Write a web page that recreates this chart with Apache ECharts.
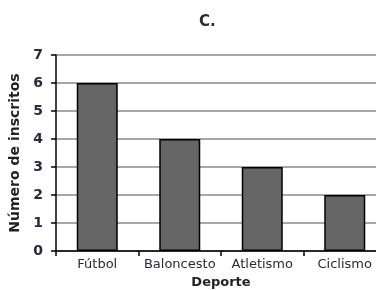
<!DOCTYPE html>
<html><head><meta charset="utf-8">
<script src="https://cdn.jsdelivr.net/npm/echarts@6/dist/echarts.min.js"></script>
<style>html,body{margin:0;padding:0;background:#fff}#c{width:376px;height:290px}</style>
</head><body><div id="c"></div>
<script>
const categories = ["Fútbol", "Baloncesto", "Atletismo", "Ciclismo"];
const values = [6, 4, 3, 2];
const yTicks = [0, 1, 2, 3, 4, 5, 6, 7];

const chart = echarts.init(document.getElementById('c'), null, {renderer: 'canvas'});
chart.setOption({
  animation: false,
  title: {
    text: 'C.', left: 194, top: 10,
    textStyle: {fontFamily: 'DejaVu Sans', fontSize: 15, fontWeight: 'bold', color: '#2a2a3a'}
  },
  grid: {left: 56, width: 330, top: 55, bottom: 39, containLabel: false, outerBoundsMode: 'none'},
  xAxis: {
    type: 'category', data: categories, boundaryGap: true,
    name: 'Deporte', nameLocation: 'middle', nameGap: 25,
    nameTextStyle: {fontFamily: 'DejaVu Sans', fontSize: 13, fontWeight: 'bold', color: '#222'},
    axisLine: {show: true, lineStyle: {color: '#000', width: 1.5}},
    axisTick: {show: true, length: 5, interval: 0, lineStyle: {color: '#000', width: 1.5}},
    axisLabel: {fontFamily: 'DejaVu Sans', fontSize: 13, color: '#2a2a3a', margin: 7, interval: 0, hideOverlap: false}
  },
  yAxis: {
    type: 'value', min: 0, max: 7, interval: 1,
    name: 'Número de inscritos', nameLocation: 'middle', nameGap: 34, nameRotate: 90,
    nameTextStyle: {fontFamily: 'DejaVu Sans', fontSize: 14, fontWeight: 'bold', color: '#222'},
    axisLine: {show: true, lineStyle: {color: '#000', width: 1.5}},
    axisTick: {show: true, length: 5, lineStyle: {color: '#000', width: 1.5}},
    axisLabel: {fontFamily: 'DejaVu Sans', fontSize: 14, fontWeight: 'bold', color: '#2a2a3a', margin: 13,
      formatter: v => yTicks.includes(v) ? String(v) : ''},
    splitLine: {show: true, lineStyle: {color: '#8a8a8a', width: 1.5}}
  },
  series: [{
    type: 'bar', data: values, barWidth: 41,
    itemStyle: {color: '#666666', borderColor: '#000', borderWidth: 1.5}
  }]
});
</script></body></html>
